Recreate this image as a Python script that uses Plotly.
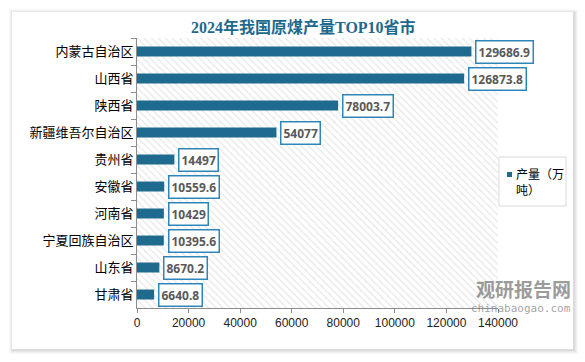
import plotly.graph_objects as go

provinces = ["内蒙古自治区", "山西省", "陕西省", "新疆维吾尔自治区", "贵州省",
             "安徽省", "河南省", "宁夏回族自治区", "山东省", "甘肃省"]
output = [129686.9, 126873.8, 78003.7, 54077, 14497,
          10559.6, 10429, 10395.6, 8670.2, 6640.8]
label_text = ["129686.9", "126873.8", "78003.7", "54077", "14497",
              "10559.6", "10429", "10395.6", "8670.2", "6640.8"]
series_name = "产量（万<br>吨）"
title_text = "2024年我国原煤产量TOP10省市"
x_ticks = [0, 20000, 40000, 60000, 80000, 100000, 120000, 140000]

W, H = 585, 362
L, R, T, B = 137, 498, 38, 308


def px(x):
    return (x - L) / (R - L)


def py(y):
    return (B - y) / (B - T)


BAR = "#1e6b8f"
fig = go.Figure()

# hatched plot-area background (on the hidden numeric axis y)
fig.add_trace(go.Scatter(
    x=[0, x_ticks[-1], x_ticks[-1], 0, 0], y=[0, 0, 1, 1, 0],
    yaxis="y", mode="lines", line=dict(width=0), fill="toself",
    fillcolor="white",
    fillpattern=dict(shape="\\", fgcolor="#cfcfcf", bgcolor="white", size=5, solidity=0.25),
    hoverinfo="skip", showlegend=False))

fig.add_trace(go.Bar(
    y=provinces, x=output, orientation="h", name=series_name, yaxis="y2",
    marker=dict(color=BAR, line=dict(width=0)), width=0.37,
    hoverinfo="skip", showlegend=False))

for p, v, t in zip(provinces, output, label_text):
    fig.add_annotation(x=v, y=p, xref="x", yref="y2", text="<b>%s</b>" % t,
                       xanchor="left", yanchor="middle", xshift=4, showarrow=False,
                       font=dict(family="Open Sans", size=12, color="#595959"),
                       bgcolor="white", bordercolor="#2e86b8", borderwidth=1.5, borderpad=2)

shapes = []
# card shadow
for i, op in enumerate([0.025, 0.03, 0.04, 0.05]):
    d = 4 - i
    shapes.append(dict(type="rect", xref="paper", yref="paper", layer="below",
                       x0=px(12 - d + 1), x1=px(573 + d + 1), y0=py(349 + d + 1), y1=py(12 - d + 1),
                       fillcolor="rgba(0,0,0,%s)" % op, line=dict(width=0)))
shapes.append(dict(type="rect", xref="paper", yref="paper", layer="below",
                   x0=px(12), x1=px(573), y0=py(349), y1=py(12),
                   fillcolor="white", line=dict(width=0)))
# legend box and swatch
shapes.append(dict(type="rect", xref="paper", yref="paper", layer="above",
                   x0=px(499), x1=px(566), y0=py(206), y1=py(157),
                   fillcolor="white", line=dict(color="#d9d9d9", width=1)))
shapes.append(dict(type="rect", xref="paper", yref="paper", layer="above",
                   x0=px(507), x1=px(512), y0=py(177), y1=py(172),
                   fillcolor=BAR, line=dict(width=0)))

annotations = [
    dict(x=px(303), y=py(27), xref="paper", yref="paper", showarrow=False,
         text="<b>%s</b>" % title_text, xanchor="center", yanchor="middle",
         font=dict(family="Liberation Serif, Noto Sans CJK SC", size=16, color="#1e6a8d")),
    dict(x=px(514), y=py(181.5), xref="paper", yref="paper", showarrow=False,
         text=series_name, xanchor="left", yanchor="middle", align="left",
         font=dict(family="Noto Sans CJK SC", size=12, color="black")),
    dict(x=px(573), y=py(288), xref="paper", yref="paper", showarrow=False,
         text="<b>观研报告网</b>", xanchor="right", yanchor="middle",
         font=dict(family="Noto Sans CJK SC", size=19, color="rgba(110,110,110,0.7)")),
    dict(x=px(573), y=py(308.5), xref="paper", yref="paper", showarrow=False,
         text="chinabaogao.com", xanchor="right", yanchor="middle",
         font=dict(family="DejaVu Sans Mono", size=11, color="rgba(110,110,110,0.65)")),
]

fig.update_layout(
    width=W, height=H,
    margin=dict(l=L, r=W - R, t=T, b=H - B, pad=0, autoexpand=False),
    paper_bgcolor="white", plot_bgcolor="rgba(0,0,0,0)",
    shapes=shapes, annotations=list(fig.layout.annotations) + annotations,
    showlegend=False,
    xaxis=dict(range=[0, x_ticks[-1]], tickvals=x_ticks, ticktext=[str(v) for v in x_ticks],
               showgrid=False, zeroline=False, showline=True, linecolor="#8c8c8c", linewidth=1,
               ticks="outside", ticklen=4, tickcolor="#8c8c8c", automargin=False,
               tickfont=dict(family="Liberation Sans", size=12, color="#222")),
    yaxis=dict(range=[0, 1], visible=False, fixedrange=True, automargin=False),
    yaxis2=dict(overlaying="y", side="left", autorange="reversed", showgrid=False,
                zeroline=False, showline=True, automargin=False,
                linecolor="#8c8c8c", linewidth=1, ticks="outside", ticklen=5,
                tickcolor="#8c8c8c", tickson="boundaries",
                tickfont=dict(family="Noto Sans CJK SC", size=13, color="black")),
    bargap=0.63,
)

fig.write_html("out.html", config={"displayModeBar": False},
               post_script="document.body.style.margin='0';")
